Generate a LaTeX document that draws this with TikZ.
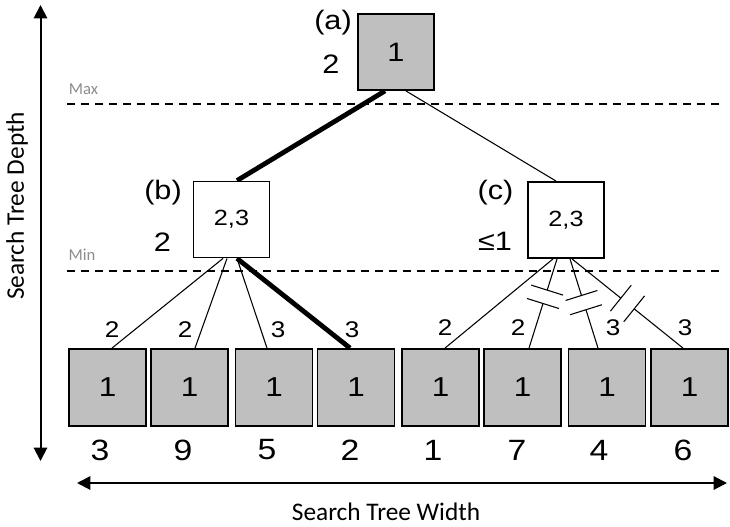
\documentclass[tikz,border=0pt]{standalone}
\usepackage{fontspec}
\setmainfont[FakeStretch=1.15]{Liberation Sans}
\newfontfamily\calib{Carlito}
\usetikzlibrary{arrows.meta,calc,backgrounds}
\definecolor{boxgray}{RGB}{191,191,191}
\definecolor{tiergray}{RGB}{140,140,140}
\begin{document}
\begin{tikzpicture}[x=0.75pt,y=-0.75pt,
  maxbox/.style={draw, line width=1.4pt, fill=boxgray, minimum size=57pt, inner sep=0pt, font=\fontsize{20}{24}\selectfont},
  minbox/.style={draw, line width=1.4pt, fill=white, minimum size=57pt, inner sep=0pt, font=\fontsize{16.5}{20}\selectfont},
  leafbox/.style={draw, line width=1.4pt, fill=boxgray, minimum size=57.75pt, inner sep=0pt, font=\fontsize{20.5}{24}\selectfont},
  tag/.style={font=\fontsize{20}{24}\selectfont, inner sep=0pt},
  edgelbl/.style={font=\fontsize{17}{20}\selectfont, inner sep=0pt},
  score/.style={font=\fontsize{22}{26}\selectfont, inner sep=0pt},
  tier/.style={font=\calib\fontsize{12.5}{15}\selectfont, text=tiergray, inner sep=0pt},
  axislbl/.style={font=\calib\fontsize{19}{22}\selectfont, inner sep=0pt},
  branch/.style={line width=0.8pt},
  bestbranch/.style={line width=3.6pt},
  tierline/.style={dash pattern=on 6pt off 4.5pt, line width=1.1pt},
  axisarrow/.style={line width=1.5pt, {Triangle[length=10pt,width=10pt]}-{Triangle[length=10pt,width=10pt]}},
  cutmark/.style={line width=0.8pt},
]
\useasboundingbox (0,0) rectangle (730,527);

% tree nodes
\node[maxbox] (a) at (396,52) {1};
\node[minbox] (b) at (231.5,219.5) {2,3};
\node[minbox] (c) at (566,220) {2,3};
\foreach \i/\x in {1/107.5,2/189.5,3/274,4/356,5/440.5,6/522.5,7/607,8/689.5}
  \node[leafbox] (l\i) at (\x,387.5) {1};

% node tags and backed-up values
\node[tag] (ta) at (333,23) {(a)};
\node[tag] (va) at (331,64.5) {2};
\node[tag] (tb) at (163,193) {(b)};
\node[tag] (vb) at (162.5,242.5) {2};
\node[tag] (tc) at (495.5,193) {(c)};
\node[tag] (vc) at (495,241) {≤1};

% leaf scores
\foreach \i/\x/\v in {1/100/3,2/183/9,3/267/5,4/350/2,5/433/1,6/517/7,7/599/4,8/683/6}
  \node[score] (s\i) at (\x,450) {\v};

% move labels on the leaf branches
\foreach \i/\x/\y/\v in {1/112/330/2,2/185/330/2,3/278/330/3,4/352/330/3,5/445/328/2,6/518/328/2,7/613/328/3,8/685/328/3}
  \node[edgelbl] (e\i) at (\x,\y) {\v};

% Max / Min levels
\node[tier] (maxlbl) at (83.5,89) {Max};
\node[tier] (minlbl) at (82,255) {Min};
\coordinate (max0) at (67,104);
\coordinate (max1) at (725,104);
\coordinate (min0) at (67,271);
\coordinate (min1) at (725,271);
\draw[tierline] (max0) -- (max1);
\draw[tierline] (min0) -- (min1);

% branches
\begin{scope}[on background layer]
  \draw[bestbranch] ($(a.south)+(-11,0)$) -- ($(b.north)+(5.5,0)$);
  \draw[branch] ($(a.south)+(10,0)$) -- ($(c.north)+(-10,0)$);
  \draw[branch] ($(b.south)+(-8.5,0)$) -- ($(l1.north)+(4.5,0)$);
  \draw[branch] ($(b.south)+(-4.5,0)$) -- ($(l2.north)+(5.5,0)$);
  \draw[branch] ($(b.south)+(5.5,0)$) -- ($(l3.north)+(-7,0)$);
  \draw[bestbranch] ($(b.south)+(5.5,0)$) -- ($(l4.north)+(-6,0)$);
  \draw[branch] ($(c.south)+(-13,0)$) -- ($(l5.north)+(4.5,0)$);
  % pruned branches, broken by a pair of cut marks
  \foreach \i/\so/\eo/\fa/\fb in {6/-9/6.5/0.35/0.50, 7/4/-9/0.41/0.57, 8/6/-6.5/0.44/0.56}{
    \coordinate (cs\i) at ($(c.south)+(\so,0)$);
    \coordinate (le\i) at ($(l\i.north)+(\eo,0)$);
    \coordinate (ka\i) at ($(cs\i)!\fa!(le\i)$);
    \coordinate (kb\i) at ($(cs\i)!\fb!(le\i)$);
    \draw[branch] (cs\i) -- (ka\i) (kb\i) -- (le\i);
    \draw[cutmark] ($(ka\i)!12.5pt!90:(le\i)$) -- ($(ka\i)!12.5pt!-90:(le\i)$);
    \draw[cutmark] ($(kb\i)!12.5pt!90:(le\i)$) -- ($(kb\i)!12.5pt!-90:(le\i)$);
  }
\end{scope}

% axes
\coordinate (dtop) at (40.5,5);
\coordinate (dbot) at (40.5,461);
\draw[axisarrow] (dbot) -- (dtop);
\node[axislbl, rotate=90] (depth) at (17,206) {Search Tree Depth};
\coordinate (wl) at (77,483);
\coordinate (wr) at (727,483);
\draw[axisarrow] (wl) -- (wr);
\node[axislbl] (width) at (386,512) {Search Tree Width};
\end{tikzpicture}
\end{document}
